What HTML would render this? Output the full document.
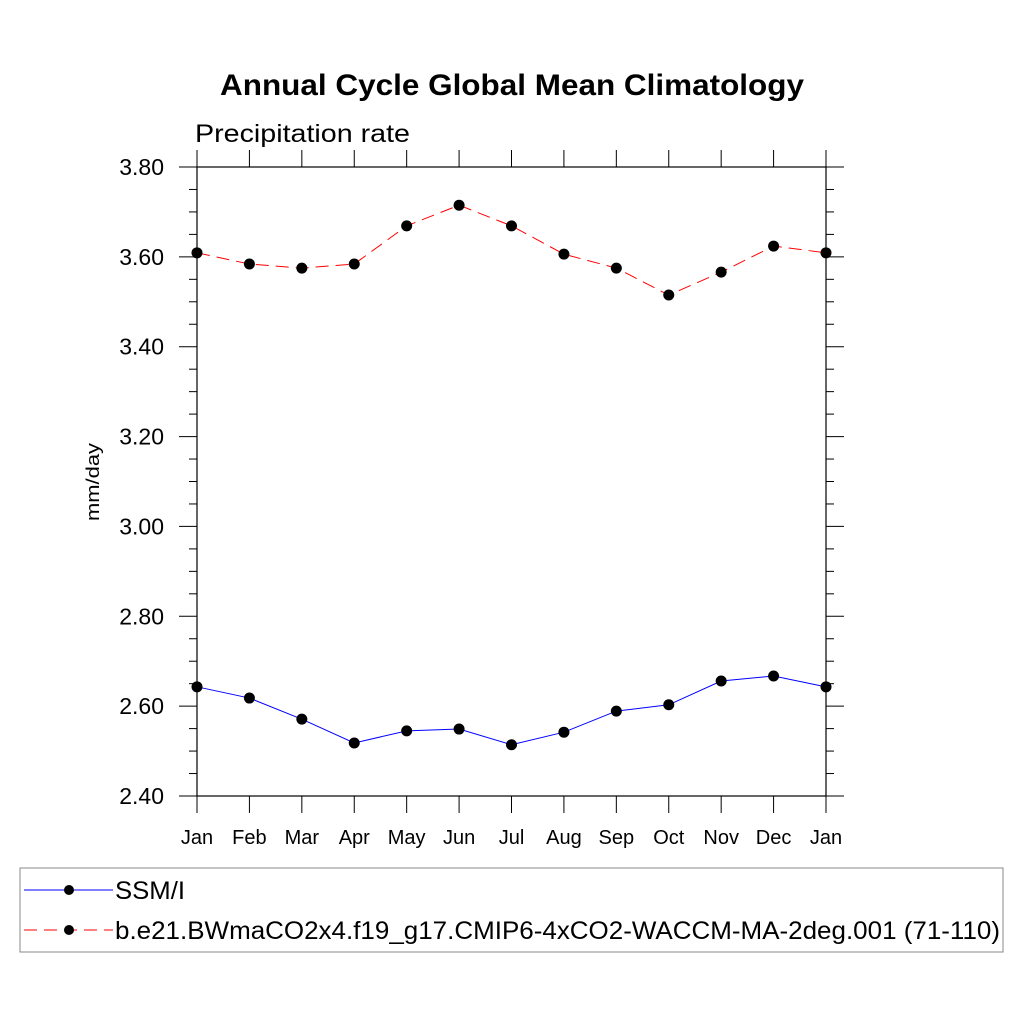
<!DOCTYPE html>
<html><head><meta charset="utf-8"><style>body{margin:0;background:#fff}svg{display:block}text{font-family:"Liberation Sans",sans-serif}</style></head>
<body>
<svg id="c" width="1024" height="1024" xmlns="http://www.w3.org/2000/svg">
<text x="220" y="95" textLength="584" lengthAdjust="spacingAndGlyphs" font-size="30" font-weight="bold">Annual Cycle Global Mean Climatology</text>
<text x="195" y="142" textLength="215" lengthAdjust="spacingAndGlyphs" font-size="25">Precipitation rate</text>
<text transform="translate(99,482) rotate(-90)" text-anchor="middle" textLength="78" lengthAdjust="spacingAndGlyphs" font-size="18">mm/day</text>
<rect x="197" y="167" width="629" height="629" fill="none" stroke="#000" stroke-width="1.2"/>
<g id="axes"></g>
<g id="series"></g>
<rect x="20" y="868" width="983" height="84" fill="none" stroke="#888" stroke-width="1"/>
<line x1="24" y1="890" x2="113" y2="890" stroke="#00f" stroke-width="1"/>
<circle cx="69" cy="890" r="5" fill="#000"/>
<text x="115" y="899" textLength="70" lengthAdjust="spacingAndGlyphs" font-size="25">SSM/I</text>
<line x1="24" y1="930" x2="113" y2="930" stroke="#f00" stroke-width="1" stroke-dasharray="13,7"/>
<circle cx="69" cy="930" r="5" fill="#000"/>
<text x="115" y="939" textLength="885" lengthAdjust="spacingAndGlyphs" font-size="25">b.e21.BWmaCO2x4.f19_g17.CMIP6-4xCO2-WACCM-MA-2deg.001 (71-110)</text>
</svg>
<script>
const months=["Jan","Feb","Mar","Apr","May","Jun","Jul","Aug","Sep","Oct","Nov","Dec","Jan"];
const ssmi=[2.643,2.618,2.571,2.518,2.545,2.549,2.514,2.542,2.589,2.603,2.656,2.667,2.643];
const model=[3.609,3.584,3.575,3.584,3.669,3.715,3.669,3.606,3.575,3.515,3.566,3.624,3.609];
const yTicks=[2.4,2.6,2.8,3.0,3.2,3.4,3.6,3.8];
const NS="http://www.w3.org/2000/svg";
const X0=197,X1=826,Y0=796,Y1=167,YMIN=2.4,YMAX=3.8;
const xs=i=>X0+(X1-X0)*i/(months.length-1);
const ys=v=>Y0-(v-YMIN)/(YMAX-YMIN)*(Y0-Y1);
const ax=document.getElementById('axes'),se=document.getElementById('series');
function mk(t,a,p){const e=document.createElementNS(NS,t);for(const k in a)e.setAttribute(k,a[k]);p.appendChild(e);return e;}
months.forEach((m,i)=>{const x=xs(i);
 let l=mk('line',{x1:x,x2:x,y1:Y0,y2:Y0+17,stroke:'#000'},ax);
 
 
 let l2=mk('line',{x1:x,x2:x,y1:Y1,y2:Y1-17,stroke:'#000'},ax);
 
 
 let t=mk('text',{x:x,y:844,'text-anchor':'middle','font-size':'20'},ax);t.textContent=m;
 
 
});
yTicks.forEach((v,i)=>{const y=ys(v);
 let l=mk('line',{x1:X0-18,x2:X0,y1:y,y2:y,stroke:'#000'},ax);
 
 
 let r=mk('line',{x1:X1,x2:X1+18,y1:y,y2:y,stroke:'#000'},ax);
 
 
 let t=mk('text',{x:164,y:y+8,'text-anchor':'end','font-size':'23'},ax);t.textContent=v.toFixed(2);
 
 
 if(i<yTicks.length-1){for(let k=1;k<4;k++){const yy=ys(v+0.05*k);
  let m1=mk('line',{x1:X0-8,x2:X0,y1:yy,y2:yy,stroke:'#000'},ax);
  
  
  let m2=mk('line',{x1:X1,x2:X1+8,y1:yy,y2:yy,stroke:'#000'},ax);
  
  }}
});
function series(vals,col,dash,name){
 const pts=vals.map((v,i)=>xs(i)+','+ys(v)).join(' ');
 const pl=mk('polyline',{points:pts,fill:'none',stroke:col,'stroke-width':1,'stroke-dasharray':dash},se);
 
 
 vals.forEach((v,i)=>{const c=mk('circle',{cx:xs(i),cy:ys(v),r:5.5,fill:'#000'},se);
  
  });
}
series(ssmi,'#00f','none','ssmi');
series(model,'#f00','13,7','model');
</script>
</body></html>
